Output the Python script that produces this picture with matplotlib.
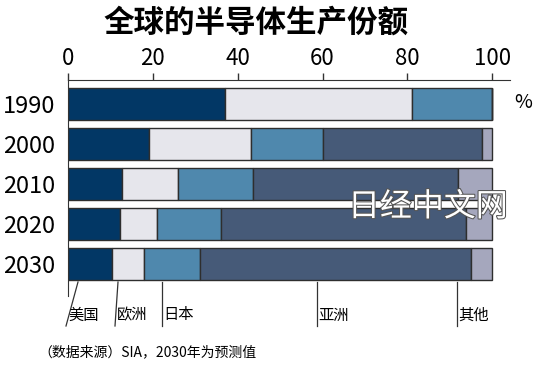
import matplotlib.pyplot as plt
import matplotlib.patheffects as pe
from matplotlib.lines import Line2D

plt.rcParams['font.family'] = ['Noto Sans CJK SC', 'DejaVu Sans']

years = ["1990", "2000", "2010", "2020", "2030"]
regions = ["美国", "欧洲", "日本", "亚洲", "其他"]
usa = [37, 19, 12.7, 12.3, 10.3]
europe = [44, 24.2, 13.3, 8.6, 7.5]
japan = [19, 16.9, 17.7, 15.2, 13.3]
asia = [0, 37.5, 48.2, 57.7, 63.9]
other = [0, 2.4, 8.1, 6.2, 5.0]
colors = ["#023765", "#e6e6ec", "#4f88ad", "#465a78", "#a5a7bd"]

fig = plt.figure(figsize=(5.5, 3.75), dpi=100)
ax = fig.add_axes([68/550, 1-283/375, (510-68)/550, (283-80)/375])

series = [usa, europe, japan, asia, other]
left = [0]*len(years)
for vals, c in zip(series, colors):
    ax.barh(range(len(years)), vals, left=left, height=0.8, color=c,
            edgecolor="#2e2e2e", linewidth=1.0)
    left = [l + v for l, v in zip(left, vals)]

ax.set_xlim(0, 104.2)
ax.set_ylim(4.475, -0.6)
ax.xaxis.tick_top()
ax.set_xticks([0, 20, 40, 60, 80, 100])
ax.tick_params(axis="x", direction="out", length=5, width=1, color="#333333",
               labelsize=16, pad=2)
ax.set_yticks(range(len(years)))
ax.set_yticklabels(years, fontsize=17)
ax.tick_params(axis="y", length=0, pad=9)
for s in ["right", "bottom"]:
    ax.spines[s].set_visible(False)
ax.spines["top"].set_color("#333333")
ax.spines["left"].set_color("#333333")
ax.spines["left"].set_bounds(-0.6, 4.8)

ax.text(1.01, 0.89, "%", transform=ax.transAxes, fontsize=14, ha="left", va="center")

fig.text(256/550, 1-23/375, "全球的半导体生产份额", ha="center", va="center",
         fontsize=22, fontweight="black")

# leader lines and region labels below the 2030 bar
fig_h = 375
leaders = [(78, 66), (118, 115), (162, 162), (317, 317), (457, 457)]
label_x = [68, 117, 163, 318, 458]
for (x0, x1), lx, name in zip(leaders, label_x, regions):
    fig.add_artist(Line2D([x0/550, x1/550], [1-282/fig_h, 1-326/fig_h],
                          color="#333333", linewidth=0.9))
    fig.text(lx/550, 1-315/fig_h, name, fontsize=11, ha="left", va="center")

fig.text(38/550, 1-352/fig_h, "（数据来源）SIA，2030年为预测值", fontsize=10,
         ha="left", va="center")

fig.text(428/550, 1-207/fig_h, "日经中文网", fontsize=23, color="white",
         ha="center", va="center", fontweight="medium",
         path_effects=[pe.withStroke(linewidth=1.5, foreground="#555555")])

fig.savefig("out.png", dpi=100)
